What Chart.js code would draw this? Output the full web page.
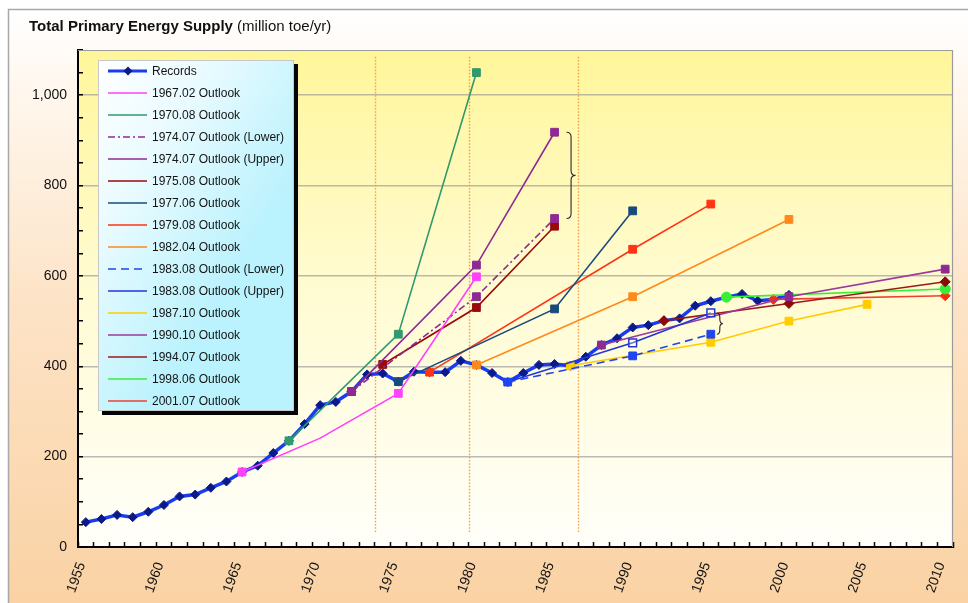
<!DOCTYPE html>
<html>
<head>
<meta charset="utf-8">
<title>Total Primary Energy Supply</title>
<script src="https://cdn.jsdelivr.net/npm/chart.js@4.4.1/dist/chart.umd.min.js"></script>
<style>
  html, body { margin: 0; padding: 0; background: #ffffff; }
  #wrap { width: 968px; height: 603px; position: relative; }
  canvas { display: block; }
</style>
</head>
<body>
<div id="wrap"><canvas id="tpes" width="968" height="603"></canvas></div>
<script>
// ---------------- data (million toe/yr) ----------------
const recordYears = [1955, 1956, 1957, 1958, 1959, 1960, 1961, 1962, 1963, 1964,
                     1965, 1966, 1967, 1968, 1969, 1970, 1971, 1972, 1973, 1974,
                     1975, 1976, 1977, 1978, 1979, 1980, 1981, 1982, 1983, 1984,
                     1985, 1986, 1987, 1988, 1989, 1990, 1991, 1992, 1993, 1994,
                     1995, 1996, 1997, 1998, 1999, 2000];
const recordValues = [55, 62, 71, 66, 78, 93, 112, 116, 131, 145,
                      166, 180, 208, 235, 272, 314, 321, 344, 382, 384,
                      366, 388, 387, 387, 412, 403, 385, 365, 385, 403,
                      405, 401, 421, 447, 462, 486, 491, 501, 506, 534,
                      544, 553, 560, 545, 548, 558];

const o6702Years = [1965, 1970, 1975, 1980];
const o6702Values = [166, 241, 340, 598];
const o7008Years = [1968, 1975, 1980];
const o7008Values = [235, 471, 1050];
const o7407LowYears = [1972, 1980, 1985];
const o7407LowValues = [344, 554, 727];
const o7407UpYears = [1972, 1980, 1985];
const o7407UpValues = [344, 624, 918];
const o7508Years = [1974, 1980, 1985];
const o7508Values = [404, 530, 710];
const o7706Years = [1975, 1985, 1990];
const o7706Values = [366, 527, 744];
const o7908Years = [1977, 1990, 1995];
const o7908Values = [387, 659, 759];
const o8204Years = [1980, 1990, 2000];
const o8204Values = [403, 554, 725];
const o8308LowYears = [1982, 1990, 1995];
const o8308LowValues = [365, 423, 471];
const o8308UpYears = [1982, 1990, 1995];
const o8308UpValues = [365, 452, 518];
const o8710Years = [1986, 1995, 2000, 2005];
const o8710Values = [401, 453, 500, 537];
const o9010Years = [1988, 2000, 2010];
const o9010Values = [447, 554, 615];
const o9407Years = [1992, 2000, 2010];
const o9407Values = [501, 539, 587];
const o9806Years = [1996, 2010];
const o9806Values = [553, 571];
const o0107Years = [1999, 2010];
const o0107Values = [548, 556];

// axis labels
const xLabelYears = [1955, 1960, 1965, 1970, 1975, 1980, 1985, 1990, 1995, 2000, 2005, 2010];
const yLabelValues = [0, 200, 400, 600, 800, 1000];
const yLabelTexts = ['0', '200', '400', '600', '800', '1,000'];

// oil-market turning points (dotted markers) and their vertical extent
const eventYears = [1973.5, 1979.5, 1986.5];
const eventRange = [30, 1085];

// pairs of lower/upper outlooks grouped with a brace
const bracePairs = [
  ['1974.07 Outlook (Upper)', '1974.07 Outlook (Lower)'],
  ['1983.08 Outlook (Upper)', '1983.08 Outlook (Lower)']
];

// ---------------- helpers ----------------
const FONT = '"Liberation Sans", Arial, Helvetica, sans-serif';

function points(years, values) {
  return years.map((yr, i) => ({ x: yr, y: values[i] }));
}

function outlook(label, years, values, color, extra) {
  return Object.assign({
    label: label,
    data: points(years, values),
    borderColor: color,
    backgroundColor: color,
    borderWidth: 1.6,
    pointStyle: 'rect',
    pointRadius: 5.5,
    pointBackgroundColor: color,
    pointBorderColor: color,
    pointBorderWidth: 1,
    fill: false,
    order: 0
  }, extra || {});
}

const datasets = [
  {
    label: 'Records',
    data: points(recordYears, recordValues),
    borderColor: '#1a3cf0',
    backgroundColor: '#0b1a8a',
    borderWidth: 3.5,
    pointStyle: 'rectRot',
    pointRadius: 4.5,
    pointBackgroundColor: '#0b1a8a',
    pointBorderColor: '#0b1a8a',
    pointBorderWidth: 1,
    fill: false,
    order: 1
  },
  outlook('1967.02 Outlook', o6702Years, o6702Values, '#ff40ff', { pointRadius: [5.5, 0, 5.5, 5.5] }),
  outlook('1970.08 Outlook', o7008Years, o7008Values, '#2f9a6c'),
  outlook('1974.07 Outlook (Lower)', o7407LowYears, o7407LowValues, '#8e2a92', { borderDash: [7, 3, 2, 3] }),
  outlook('1974.07 Outlook (Upper)', o7407UpYears, o7407UpValues, '#8e2a92'),
  outlook('1975.08 Outlook', o7508Years, o7508Values, '#990a0a'),
  outlook('1977.06 Outlook', o7706Years, o7706Values, '#174c7a'),
  outlook('1979.08 Outlook', o7908Years, o7908Values, '#ff3414'),
  outlook('1982.04 Outlook', o8204Years, o8204Values, '#ff8a1c'),
  outlook('1983.08 Outlook (Lower)', o8308LowYears, o8308LowValues, '#1f44f0', { borderDash: [8, 5] }),
  outlook('1983.08 Outlook (Upper)', o8308UpYears, o8308UpValues, '#2236d8', {
    pointRadius: [0, 5.5, 5.5],
    pointBackgroundColor: 'rgba(255,255,255,0.3)',
    pointBorderWidth: 1.5
  }),
  outlook('1987.10 Outlook', o8710Years, o8710Values, '#ffcc00'),
  outlook('1990.10 Outlook', o9010Years, o9010Values, '#9a3a9c', { pointBackgroundColor: '#8e2a92', pointBorderColor: '#8e2a92' }),
  outlook('1994.07 Outlook', o9407Years, o9407Values, '#9a1a1a', { pointStyle: 'rectRot', pointRadius: 5, pointBackgroundColor: '#8b0a0a', pointBorderColor: '#8b0a0a' }),
  outlook('1998.06 Outlook', o9806Years, o9806Values, '#38ee38', { pointStyle: 'circle', pointRadius: 5 }),
  outlook('2001.07 Outlook', o0107Years, o0107Values, '#ee4032', { pointStyle: 'rectRot', pointRadius: 5, pointBackgroundColor: '#ff2a10', pointBorderColor: '#ff2a10' })
];

// ---------------- drawing plugins ----------------
const backdrop = {
  id: 'backdrop',
  beforeDraw(chart) {
    const { ctx, width, height, chartArea: a } = chart;
    ctx.save();
    ctx.fillStyle = '#ffffff';
    ctx.fillRect(0, 0, width, height);
    // outer frame
    const g = ctx.createLinearGradient(0, 9, 0, height);
    g.addColorStop(0, '#ffffff');
    g.addColorStop(0.12, '#fff8f0');
    g.addColorStop(0.5, '#fde3c6');
    g.addColorStop(1, '#fad2a4');
    ctx.fillStyle = g;
    ctx.fillRect(8, 9, width - 8, height - 9);
    ctx.strokeStyle = '#a8a8a8';
    ctx.lineWidth = 1.5;
    ctx.beginPath();
    ctx.moveTo(8.5, height);
    ctx.lineTo(8.5, 9.5);
    ctx.lineTo(width, 9.5);
    ctx.stroke();
    // plot area
    const p = ctx.createLinearGradient(0, a.top, 0, a.bottom);
    p.addColorStop(0, '#fff69a');
    p.addColorStop(0.45, '#fffbcf');
    p.addColorStop(1, '#fffffa');
    ctx.fillStyle = p;
    ctx.fillRect(a.left, a.top, a.right - a.left, a.bottom - a.top);
    ctx.restore();
  },
  beforeDatasetsDraw(chart) {
    const { ctx, chartArea: a, scales: { x, y } } = chart;
    ctx.save();
    // plot frame, top and right
    ctx.strokeStyle = '#9a9a9a';
    ctx.lineWidth = 1.2;
    ctx.beginPath();
    ctx.moveTo(a.left, a.top + 0.5);
    ctx.lineTo(a.right - 0.5, a.top + 0.5);
    ctx.lineTo(a.right - 0.5, a.bottom);
    ctx.stroke();
    // dotted event markers
    ctx.strokeStyle = '#f2a24a';
    ctx.lineWidth = 1.4;
    ctx.setLineDash([1.6, 1.6]);
    eventYears.forEach(yr => {
      const px = Math.round(x.getPixelForValue(yr)) + 0.5;
      ctx.beginPath();
      ctx.moveTo(px, y.getPixelForValue(eventRange[1]));
      ctx.lineTo(px, y.getPixelForValue(eventRange[0]));
      ctx.stroke();
    });
    ctx.restore();
  }
};

const braces = {
  id: 'braces',
  afterDatasetsDraw(chart) {
    const { ctx } = chart;
    const gap = [12, 6];
    const span = [9, 6];
    ctx.save();
    ctx.strokeStyle = '#2a2a2a';
    ctx.lineWidth = 1.1;
    bracePairs.forEach((pair, k) => {
      const ends = pair.map(lbl => {
        const idx = chart.data.datasets.findIndex(d => d.label === lbl);
        const els = chart.getDatasetMeta(idx).data;
        return els[els.length - 1];
      });
      const x0 = ends[0].x + gap[k];
      const top = Math.min(ends[0].y, ends[1].y);
      const bot = Math.max(ends[0].y, ends[1].y);
      const w = span[k];
      const mid = (top + bot) / 2;
      const r = Math.min(5, (bot - top) / 5);
      const xm = x0 + w / 2;
      ctx.beginPath();
      ctx.moveTo(x0, top);
      ctx.quadraticCurveTo(xm, top, xm, top + r);
      ctx.lineTo(xm, mid - r);
      ctx.quadraticCurveTo(xm, mid, x0 + w, mid);
      ctx.quadraticCurveTo(xm, mid, xm, mid + r);
      ctx.lineTo(xm, bot - r);
      ctx.quadraticCurveTo(xm, bot, x0, bot);
      ctx.stroke();
    });
    ctx.restore();
  }
};

const boxLegend = {
  id: 'boxLegend',
  afterDatasetsDraw(chart) {
    const { ctx } = chart;
    const L = 98, T = 60, W = 196, H = 351;
    ctx.save();
    // shadow
    ctx.fillStyle = '#050505';
    ctx.fillRect(L + 4, T + 4, W, H);
    // panel
    const g = ctx.createLinearGradient(L, T, L + W, T + H * 0.35);
    g.addColorStop(0, '#ffffff');
    g.addColorStop(0.4, '#eafbff');
    g.addColorStop(1, '#baf2fd');
    ctx.fillStyle = g;
    ctx.fillRect(L, T, W, H);
    ctx.strokeStyle = '#c8c8c8';
    ctx.lineWidth = 1;
    ctx.strokeRect(L + 0.5, T + 0.5, W - 1, H - 1);

    ctx.font = '12px ' + FONT;
    ctx.textBaseline = 'middle';
    ctx.textAlign = 'left';
    chart.data.datasets.forEach((ds, i) => {
      const yy = T + 11 + i * 22;
      ctx.save();
      ctx.strokeStyle = ds.borderColor;
      ctx.lineWidth = ds.label === 'Records' ? 3 : 1.6;
      ctx.setLineDash(ds.borderDash || []);
      ctx.beginPath();
      ctx.moveTo(L + 10, yy);
      ctx.lineTo(L + 49, yy);
      ctx.stroke();
      ctx.restore();
      if (ds.label === 'Records') {
        const cx = L + 30, r = 4.5;
        ctx.fillStyle = ds.pointBackgroundColor;
        ctx.beginPath();
        ctx.moveTo(cx, yy - r);
        ctx.lineTo(cx + r, yy);
        ctx.lineTo(cx, yy + r);
        ctx.lineTo(cx - r, yy);
        ctx.closePath();
        ctx.fill();
      }
      ctx.fillStyle = '#141414';
      ctx.fillText(ds.label, L + 54, yy + 0.5);
    });
    ctx.restore();
  }
};

const heading = {
  id: 'heading',
  afterDraw(chart) {
    const { ctx } = chart;
    ctx.save();
    ctx.fillStyle = '#111111';
    ctx.textBaseline = 'alphabetic';
    ctx.textAlign = 'left';
    ctx.font = 'bold 15px ' + FONT;
    const main = 'Total Primary Energy Supply';
    ctx.fillText(main, 29, 31);
    const w = ctx.measureText(main).width;
    ctx.font = '15px ' + FONT;
    ctx.fillText(' (million toe/yr)', 29 + w, 31);
    ctx.restore();
  }
};

// ---------------- chart ----------------
new Chart(document.getElementById('tpes'), {
  type: 'line',
  data: { datasets: datasets },
  plugins: [backdrop, braces, boxLegend, heading],
  options: {
    responsive: false,
    animation: false,
    devicePixelRatio: 1,
    layout: { padding: { left: 0, top: 50, right: 15, bottom: 0 } },
    elements: { line: { tension: 0 } },
    plugins: {
      legend: { display: false },
      tooltip: { enabled: false },
      title: { display: false }
    },
    scales: {
      x: {
        type: 'linear',
        min: 1954.5,
        max: 2010.5,
        afterBuildTicks(scale) {
          const t = [];
          for (let yr = 1955; yr <= 2010; yr++) t.push({ value: yr });
          scale.ticks = t;
        },
        afterFit(scale) {
          scale.height = 56;
          scale.paddingLeft = 0;
          scale.paddingRight = 0;
        },
        grid: {
          offset: true,
          drawOnChartArea: false,
          drawTicks: true,
          tickLength: -5,
          tickColor: '#000000',
          tickWidth: 1.5
        },
        border: { display: true, color: '#000000', width: 2 },
        ticks: {
          autoSkip: false,
          minRotation: 70,
          maxRotation: 70,
          padding: 18,
          labelOffset: -4,
          color: '#111111',
          font: { family: FONT, size: 14 },
          callback: v => (xLabelYears.includes(v) ? String(v) : '')
        }
      },
      y: {
        type: 'linear',
        min: 0,
        max: 1100,
        afterBuildTicks(scale) {
          const t = [];
          for (let v = 0; v <= 1100; v += 50) t.push({ value: v });
          scale.ticks = t;
        },
        afterFit(scale) { scale.width = 78; },
        grid: {
          color: c => (c.tick && c.tick.value > 0 && yLabelValues.includes(c.tick.value)) ? 'rgba(150,150,150,0.65)' : 'rgba(0,0,0,0)',
          lineWidth: 1.5,
          drawTicks: true,
          tickLength: -5,
          tickColor: '#000000',
          tickWidth: 1.5
        },
        border: { display: true, color: '#000000', width: 2 },
        ticks: {
          autoSkip: false,
          padding: 16,
          color: '#111111',
          font: { family: FONT, size: 14 },
          callback: v => {
            const i = yLabelValues.indexOf(v);
            return i >= 0 ? yLabelTexts[i] : '';
          }
        }
      }
    }
  }
});
</script>
</body>
</html>
